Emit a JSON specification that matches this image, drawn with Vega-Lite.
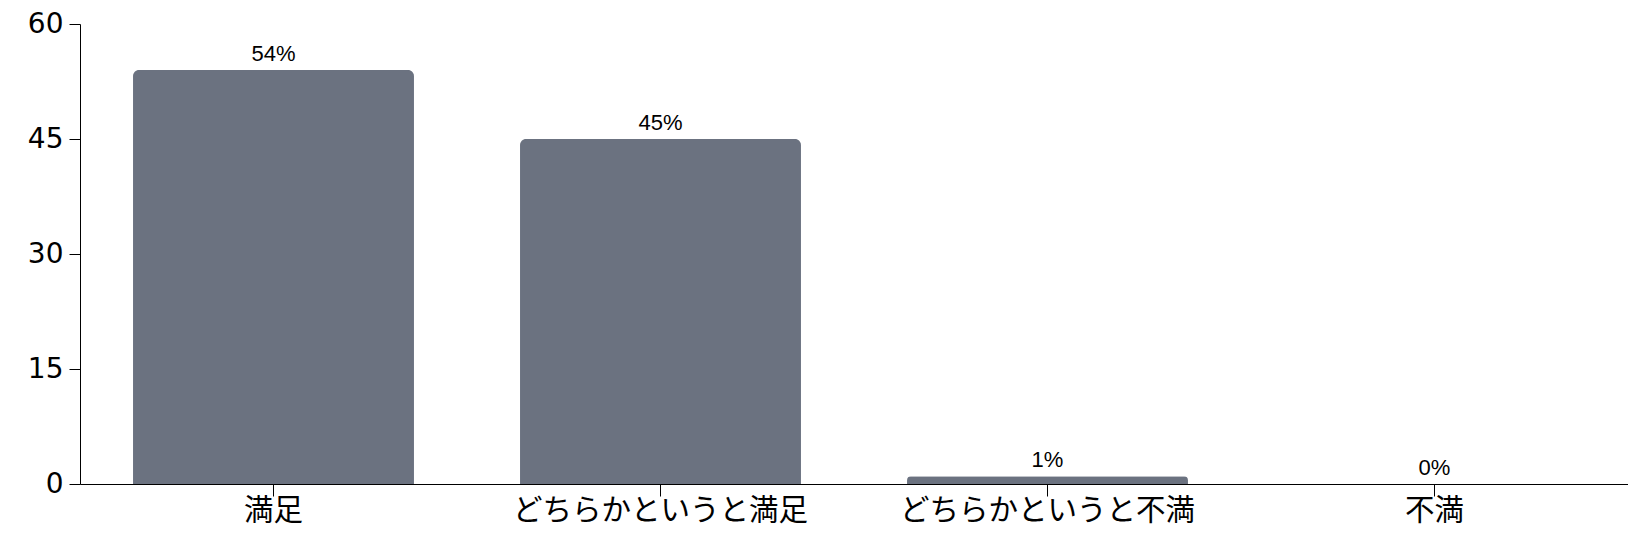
{
  "$schema": "https://vega.github.io/schema/vega-lite/v6.json",
  "width": 1548,
  "height": 460,
  "autosize": "none",
  "padding": {"left": 80, "top": 24, "right": 0, "bottom": 62},
  "background": "white",
  "data": {
    "values": [
      {"answer": "満足", "pct": 54, "label": "54%"},
      {"answer": "どちらかというと満足", "pct": 45, "label": "45%"},
      {"answer": "どちらかというと不満", "pct": 1, "label": "1%"},
      {"answer": "不満", "pct": 0, "label": "0%"}
    ]
  },
  "encoding": {
    "x": {
      "field": "answer",
      "type": "nominal",
      "sort": null,
      "title": null,
      "scale": {"paddingInner": 0.274, "paddingOuter": 0.137},
      "axis": {
        "labelAngle": 0,
        "labelFontSize": 29.5,
        "labelPadding": 0,
        "labelLimit": 0,
        "tickSize": 12,
        "tickColor": "black",
        "domainColor": "black",
        "labelColor": "black",
        "labelFont": "Noto Sans CJK JP"
      }
    },
    "y": {
      "field": "pct",
      "type": "quantitative",
      "title": null,
      "scale": {"domain": [0, 60], "nice": false},
      "axis": {
        "values": [0, 15, 30, 45, 60],
        "grid": false,
        "labelFontSize": 28,
        "labelPadding": 6,
        "tickSize": 11,
        "tickColor": "black",
        "domainColor": "black",
        "labelColor": "black",
        "labelFont": "DejaVu Sans"
      }
    }
  },
  "layer": [
    {
      "mark": {"type": "bar", "color": "#6b7280", "cornerRadiusEnd": 6}
    },
    {
      "mark": {
        "type": "text",
        "baseline": "alphabetic",
        "dy": -9,
        "fontSize": 22,
        "color": "black",
        "font": "Liberation Sans"
      },
      "encoding": {"text": {"field": "label"}}
    }
  ],
  "config": {"view": {"stroke": null}}
}
